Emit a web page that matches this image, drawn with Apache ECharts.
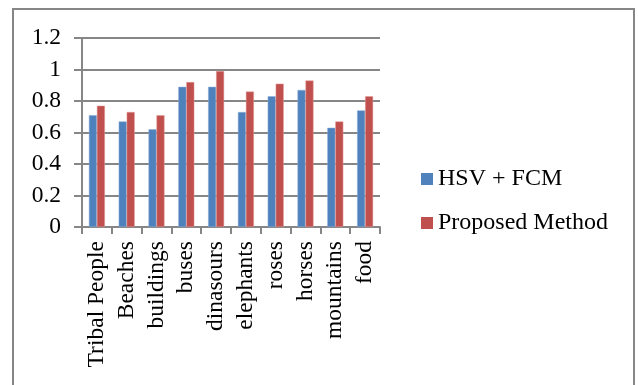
<!DOCTYPE html>
<html>
<head>
<meta charset="utf-8">
<script src="https://cdn.jsdelivr.net/npm/echarts@6/dist/echarts.min.js"></script>
<style>
  html, body { margin: 0; padding: 0; background: #ffffff; }
  #chart { width: 638px; height: 385px; }
</style>
</head>
<body>
<div id="chart"></div>
<script>
// Image categories and per-method scores
const categories = ['Tribal People', 'Beaches', 'buildings', 'buses', 'dinasours',
                    'elephants', 'roses', 'horses', 'mountains', 'food'];
const hsvFcm = [0.71, 0.67, 0.62, 0.89, 0.89, 0.73, 0.83, 0.87, 0.63, 0.74];
const proposed = [0.77, 0.73, 0.71, 0.92, 0.99, 0.86, 0.91, 0.93, 0.67, 0.83];
const seriesNames = ['HSV + FCM', 'Proposed Method'];

const FONT = '"Liberation Serif", "Times New Roman", serif';
const AXIS_GRAY = '#868686';

const chart = echarts.init(document.getElementById('chart'), null, { renderer: 'canvas' });
chart.setOption({
  backgroundColor: '#ffffff',
  animation: false,
  textStyle: { fontFamily: FONT },
  graphic: [{
    type: 'rect',
    shape: { x: 13, y: 9, width: 621, height: 400 },
    style: { fill: 'none', stroke: AXIS_GRAY, lineWidth: 2 },
    silent: true
  }],
  grid: { left: 82, right: 258, top: 38, bottom: 158, containLabel: false },
  legend: {
    orient: 'vertical',
    left: 421,
    top: 167,
    padding: 0,
    itemWidth: 12,
    itemHeight: 12,
    itemGap: 20,
    itemStyle: { borderWidth: 0 },
    icon: 'rect',
    textStyle: { fontFamily: FONT, fontSize: 24, color: '#000', padding: [0, 0, 0, 0] },
    data: seriesNames
  },
  xAxis: {
    type: 'category',
    data: categories,
    axisLine: { lineStyle: { color: AXIS_GRAY, width: 2 } },
    axisTick: { show: true, length: 7, alignWithLabel: false, lineStyle: { color: AXIS_GRAY, width: 2 } },
    axisLabel: {
      rotate: 90, interval: 0, margin: 14,
      fontFamily: FONT, fontSize: 23.5, color: '#000'
    }
  },
  yAxis: {
    type: 'value',
    min: 0, max: 1.2, interval: 0.2,
    axisLine: { show: true, lineStyle: { color: AXIS_GRAY, width: 2 } },
    axisTick: { show: true, length: 8, lineStyle: { color: AXIS_GRAY, width: 2 } },
    splitLine: { show: true, lineStyle: { color: AXIS_GRAY, width: 2 } },
    axisLabel: {
      margin: 21, fontFamily: FONT, fontSize: 23.5, color: '#000',
      formatter: v => String(Math.round(v * 10) / 10)
    }
  },
  series: [
    {
      name: seriesNames[0], type: 'bar', data: hsvFcm,
      barWidth: 8, barGap: '0%',
      itemStyle: { color: '#4F81BD', borderColor: '#8fb0d8', borderWidth: 0.5 }
    },
    {
      name: seriesNames[1], type: 'bar', data: proposed,
      barWidth: 8, barGap: '0%',
      itemStyle: { color: '#C0504D', borderColor: '#e39a98', borderWidth: 0.5 }
    }
  ]
});
</script>
</body>
</html>
